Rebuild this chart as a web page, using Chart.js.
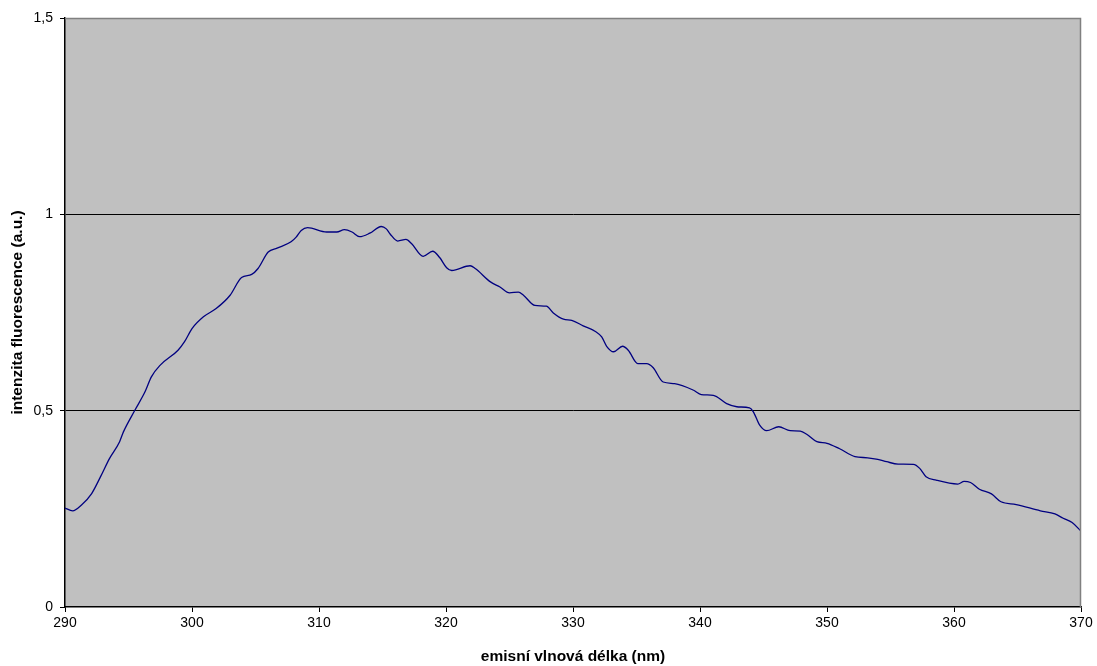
<!DOCTYPE html>
<html>
<head>
<meta charset="utf-8">
<script src="https://cdn.jsdelivr.net/npm/chart.js@4/dist/chart.umd.min.js"></script>
<style>
  html, body { margin: 0; padding: 0; background: #fff; }
  #wrap { width: 1097px; height: 666px; }
</style>
</head>
<body>
<div id="wrap"><canvas id="c" width="1097" height="666"></canvas></div>
<script>
// Emission spectrum: wavelength (nm) and fluorescence intensity (a.u.)
const wavelengths = [290, 290.6, 291.3, 292.1, 292.8, 293.5, 294.3, 294.6, 295.5, 296.3, 296.8, 297.5, 298.9, 299.4, 300.0,
  300.9, 301.9, 303.0, 303.9, 304.7, 305.2, 306.0, 306.7, 307.8, 308.2, 308.6, 309.1, 310.6, 311.4, 312.0, 312.6,
  313.2, 314.0, 314.9, 315.3, 315.6, 316.2, 316.85, 317.3, 318.2, 318.95, 319.5, 320.05, 320.45, 321.9, 322.3,
  323.5, 324.25, 325.0, 325.7, 326.1, 327.0, 327.9, 328.45, 329.25, 329.9, 330.8, 331.8, 332.26, 332.65, 333.2,
  333.9, 334.35, 335.1, 335.8, 336.3, 337.1, 338.0, 339.5, 340.1, 341.05, 342.1, 342.9, 343.9, 344.2, 344.7,
  345.25, 346.2, 347.1, 347.9, 348.4, 349.2, 350.0, 351.0, 352.2, 353.2, 354.0, 354.7, 355.6, 356.8, 357.3,
  357.8, 358.6, 360.3, 360.8, 361.3, 362.0, 362.95, 363.7, 364.9, 366.8, 367.95, 368.6, 369.3, 370];
const intensities = [0.252, 0.245, 0.260, 0.289, 0.332, 0.378, 0.421, 0.446, 0.501, 0.548, 0.586, 0.616, 0.654, 0.675, 0.709,
  0.739, 0.760, 0.794, 0.839, 0.847, 0.862, 0.904, 0.914, 0.930, 0.942, 0.959, 0.966, 0.955, 0.955, 0.961, 0.955,
  0.943, 0.952, 0.969, 0.963, 0.950, 0.932, 0.936, 0.925, 0.893, 0.906, 0.890, 0.864, 0.857, 0.869, 0.862,
  0.828, 0.815, 0.800, 0.802, 0.794, 0.768, 0.766, 0.749, 0.733, 0.730, 0.716, 0.701, 0.688, 0.664, 0.650,
  0.664, 0.654, 0.620, 0.620, 0.610, 0.573, 0.569, 0.552, 0.541, 0.539, 0.518, 0.510, 0.507, 0.497, 0.463,
  0.449, 0.459, 0.449, 0.448, 0.440, 0.421, 0.417, 0.403, 0.383, 0.380, 0.376, 0.370, 0.364, 0.363, 0.353,
  0.332, 0.323, 0.313, 0.320, 0.317, 0.300, 0.288, 0.268, 0.261, 0.245, 0.237, 0.226, 0.215, 0.193];

const xTicks = [290, 300, 310, 320, 330, 340, 350, 360, 370];
const yTicks = [0, 0.5, 1, 1.5];
const xTitle = 'emisní vlnová délka (nm)';
const yTitle = 'intenzita fluorescence (a.u.)';

const points = wavelengths.map((w, i) => ({ x: w, y: intensities[i] }));

// Grey plot background with a grey frame on the top and right sides
const plotFrame = {
  id: 'plotFrame',
  beforeDraw(chart) {
    const { ctx, chartArea: a } = chart;
    ctx.save();
    ctx.fillStyle = '#C0C0C0';
    ctx.fillRect(a.left, a.top, a.right - a.left, a.bottom - a.top);
    ctx.restore();
  },
  afterDatasetsDraw(chart) {
    const { ctx, chartArea: a } = chart;
    ctx.save();
    ctx.strokeStyle = '#808080';
    ctx.lineWidth = 1.5;
    ctx.beginPath();
    ctx.moveTo(a.left, a.top + 0.5);
    ctx.lineTo(a.right - 0.5, a.top + 0.5);
    ctx.lineTo(a.right - 0.5, a.bottom);
    ctx.stroke();
    ctx.restore();
  }
};

const font = 'Liberation Sans, Arial, sans-serif';
const fmt = v => String(v).replace('.', ',');

new Chart(document.getElementById('c'), {
  type: 'line',
  data: {
    datasets: [{
      data: points,
      borderColor: '#000080',
      borderWidth: 1.3,
      pointRadius: 0,
      cubicInterpolationMode: 'monotone',
      fill: false
    }]
  },
  options: {
    responsive: false,
    animation: false,
    layout: { padding: { top: 18, right: 16, left: 0, bottom: 0 } },
    plugins: { legend: { display: false }, tooltip: { enabled: false } },
    scales: {
      x: {
        type: 'linear',
        min: 290, max: 370,
        afterBuildTicks: s => { s.ticks = xTicks.map(v => ({ value: v })); },
        afterFit: s => { s.height = 59; },
        ticks: { color: '#000', font: { family: font, size: 14 }, padding: 3, callback: v => fmt(v), maxRotation: 0 },
        grid: { drawOnChartArea: false, drawTicks: true, tickLength: 5, tickColor: '#000' },
        border: { color: '#000', width: 1.5 },
        title: { display: true, text: xTitle, color: '#000', font: { family: font, size: 15.5, weight: 'bold' }, padding: { top: 4, bottom: 0 } }
      },
      y: {
        type: 'linear',
        min: 0, max: 1.5,
        afterBuildTicks: s => { s.ticks = yTicks.map(v => ({ value: v })); },
        afterFit: s => { s.width = 65; },
        ticks: { color: '#000', font: { family: font, size: 14 }, padding: 7, callback: v => fmt(v) },
        grid: {
          drawOnChartArea: true, drawTicks: true, tickLength: 5,
          color: ctx => (ctx.tick && (ctx.tick.value === 0 || ctx.tick.value === 1.5)) ? 'rgba(0,0,0,0)' : '#000',
          tickColor: '#000', lineWidth: 1
        },
        border: { color: '#000', width: 1.5 },
        title: { display: true, text: yTitle, color: '#000', font: { family: font, size: 15.5, weight: 'bold' }, padding: { top: 8, bottom: 2 } }
      }
    }
  },
  plugins: [plotFrame]
});
</script>
</body>
</html>
